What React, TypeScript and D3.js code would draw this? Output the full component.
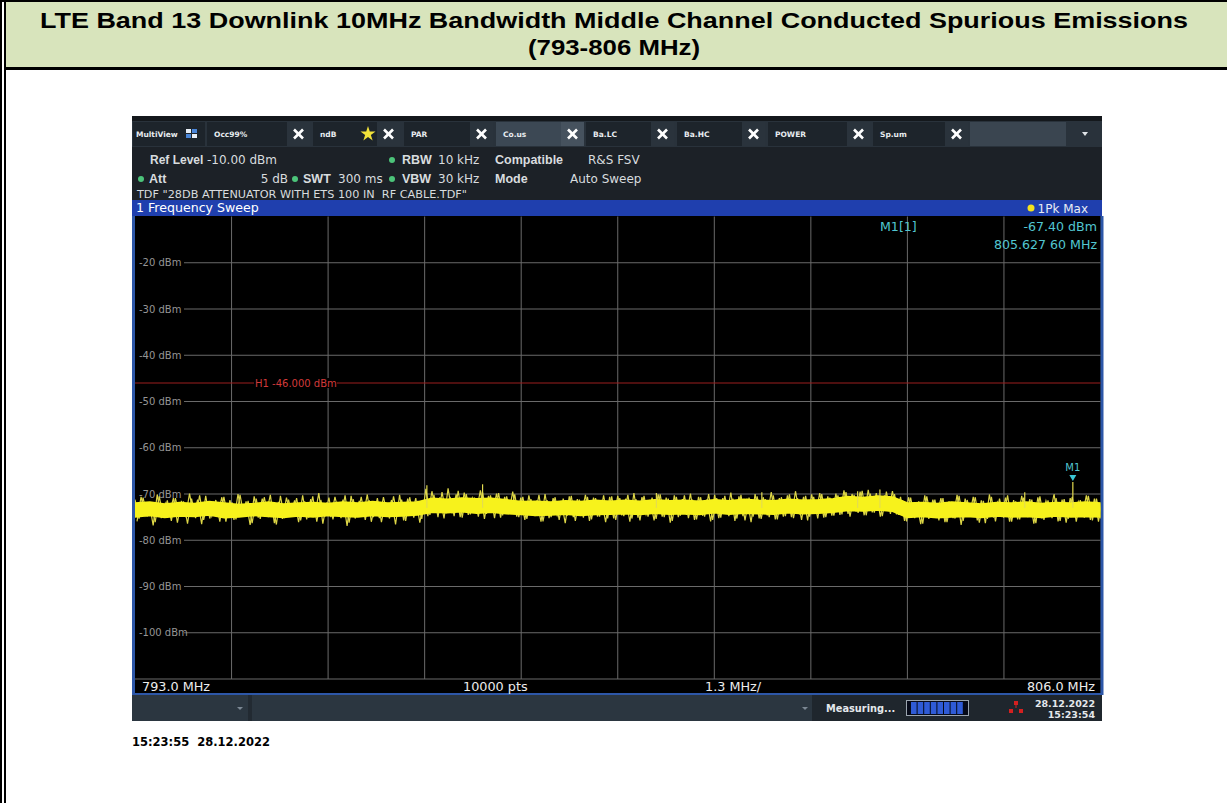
import React from 'react';
import * as d3 from 'd3';

// ---------- data ----------
const titleLines = [
  'LTE Band 13 Downlink 10MHz Bandwidth Middle Channel Conducted Spurious Emissions',
  '(793-806 MHz)',
];
const startFreqMHz = 793.0;
const stopFreqMHz = 806.0;
const refLevelDbm = -10;
const bottomLevelDbm = -110;
const levelTicksDbm = [-20, -30, -40, -50, -60, -70, -80, -90, -100];
const limitLineDbm = -46.0;
const markerFreqMHz = 805.6276;
const markerLevelDbm = -67.4;

// dense part of the noise band (upper / lower edge), sampled every 0.2 MHz
const coreTopDbm = [
  -72.0, -71.8, -72.2, -71.9, -72.1, -71.7, -72.0, -72.3, -72.1, -71.8,
  -72.2, -72.0, -71.9, -72.1, -71.8, -72.0, -71.7, -72.0, -71.9, -71.8,
  -71.0, -71.2, -70.9, -71.1, -71.0, -71.3, -71.7, -71.6, -71.8, -71.5,
  -71.7, -71.4, -71.6, -71.4, -71.6, -71.3, -71.5, -71.4, -71.6, -71.3,
  -71.5, -71.2, -71.4, -71.5, -71.2, -71.4, -71.3, -71.1, -70.6, -70.8,
  -70.5, -70.7, -72.0, -71.9, -72.1, -71.8, -72.0, -72.2, -71.9, -72.0,
  -71.8, -72.1, -71.9, -72.0, -71.8, -72.0,
];
const coreBottomDbm = [
  -74.9, -74.6, -75.0, -74.7, -74.8, -74.5, -75.1, -74.9, -74.6, -74.8,
  -75.0, -74.7, -74.9, -74.6, -74.8, -74.9, -74.6, -74.8, -74.7, -74.5,
  -73.9, -74.0, -73.8, -74.1, -73.9, -74.2, -74.4, -74.6, -74.5, -74.3,
  -74.6, -74.4, -74.3, -74.2, -74.4, -74.1, -74.3, -74.2, -74.4, -74.0,
  -74.3, -74.1, -74.2, -74.3, -74.0, -74.2, -74.1, -73.9, -73.5, -73.6,
  -73.4, -73.7, -75.0, -74.8, -75.1, -74.9, -74.8, -75.0, -74.7, -74.9,
  -74.8, -75.0, -74.7, -74.9, -74.8, -74.9,
];
// peak-detector trace (reduced), first set of points
const traceDbmA = [
  -71.2, -75.3, -70.8, -74.9, -71.9, -76.1, -70.5, -75.0, -71.4, -75.8,
  -70.9, -74.7, -71.6, -76.4, -71.0, -75.2, -70.3, -75.6, -71.7, -74.8,
  -71.3, -76.0, -70.6, -75.1, -71.8, -75.5, -70.2, -74.9, -71.5, -76.3,
  -71.0, -75.4, -70.7, -75.0, -71.9, -76.6, -70.4, -75.2, -71.2, -74.8,
  -70.9, -75.7, -71.6, -75.1, -70.5, -76.0, -71.3, -74.9, -70.8, -75.5,
  -71.7, -75.2, -70.3, -76.2, -71.1, -74.8, -70.6, -75.6, -71.4, -75.0,
  -70.9, -76.1, -71.8, -75.3, -70.5, -74.9, -71.2, -75.8, -70.7, -75.1,
  -71.5, -75.4,
  -68.9, -74.5, -70.2, -75.0, -69.6, -74.2, -70.6, -74.8,
  -69.3, -75.1, -70.0, -74.4, -70.8, -74.9, -69.5, -74.3, -70.3, -75.2,
  -69.8, -74.6, -70.5, -74.1, -70.1, -75.0,
  -70.6, -75.4, -71.1, -74.8,
  -70.2, -75.9, -71.3, -75.0, -70.7, -75.6, -71.0, -74.7, -70.4, -75.8,
  -71.2, -75.1, -70.6, -75.5, -70.9, -74.9, -70.3, -75.3,
  -70.5, -75.6,
  -70.9, -74.8, -70.2, -75.3, -71.1, -75.7, -70.4, -74.9, -70.8, -75.4,
  -70.1, -75.0, -71.0, -75.8, -70.6, -74.7, -70.3, -75.2, -71.2, -75.5,
  -70.7, -74.9, -70.0, -75.6, -70.9, -75.1, -70.4, -74.8, -71.0, -75.3,
  -70.2, -75.7, -70.8, -74.9, -70.5, -75.4, -71.1, -75.0, -70.3, -75.5,
  -70.7, -74.8, -70.1, -75.2, -70.9, -75.6, -70.4, -74.9, -70.6, -75.3,
  -70.0, -75.0, -70.8, -74.7, -70.3,
  -74.4, -69.6, -74.9, -70.2, -74.1,
  -69.3, -74.6, -69.9, -74.0, -70.4, -74.8, -69.5, -74.3, -70.0, -74.5,
  -71.4, -75.9, -70.8, -75.2, -71.6, -76.4, -70.5, -75.0, -71.2, -75.7,
  -70.9, -76.1, -71.7, -75.3, -70.4, -75.8, -71.3, -74.9, -70.7, -76.2,
  -71.5, -75.4, -70.6, -75.9, -71.0, -75.1, -70.3, -76.0, -71.6, -75.5,
  -70.8, -75.0, -71.2, -76.3, -70.5, -75.6, -71.4, -75.2, -70.9, -75.8,
  -71.1, -75.4, -70.6, -76.0, -71.3, -75.1, -70.4, -75.7, -71.0, -75.3,
];
// second set of trace points, lying between those of the first set
const traceDbmB = [
  -75.9, -70.6, -74.6, -71.8, -76.8, -70.1, -75.2, -72.0, -74.4, -70.9,
  -76.2, -71.5, -75.0, -69.9, -74.7, -71.2, -76.5, -70.4, -75.3, -71.9,
  -74.5, -70.7, -76.0, -71.3, -75.6, -70.0, -74.8, -71.6, -76.7, -70.5,
  -75.1, -71.0, -74.3, -70.2, -76.3, -71.7, -75.4, -70.8, -74.9, -71.4,
  -76.1, -70.3, -75.5, -71.1, -74.6, -69.8, -76.4, -71.8, -75.0, -70.6,
  -74.4, -71.2, -76.9, -70.4, -75.3, -71.5, -74.8, -70.1, -76.0, -71.9,
  -75.2, -70.7, -74.5, -71.3, -76.6, -70.2, -75.7, -71.0, -74.7, -70.9,
  -76.2, -71.6,
  -74.8, -69.4, -73.9, -70.7, -75.3, -68.8, -74.2, -70.1,
  -75.0, -69.7, -74.5, -70.9, -73.8, -69.2, -75.4, -70.4, -74.0, -69.9,
  -75.1, -70.6, -74.3, -69.5, -74.9, -70.8,
  -75.6, -70.3, -74.5, -71.4,
  -76.0, -70.0, -75.2, -70.9, -74.6, -71.5, -76.3, -70.5, -75.0, -71.1,
  -74.4, -70.2, -75.8, -70.8, -74.9, -71.3, -76.1, -70.6,
  -75.3, -70.4,
  -74.6, -71.0, -76.0, -69.8, -75.1, -70.7, -74.4, -71.3, -75.7, -70.1,
  -74.9, -70.8, -76.2, -70.3, -75.0, -71.1, -74.5, -69.9, -75.6, -70.6,
  -74.7, -71.2, -75.9, -70.2, -75.2, -70.9, -74.3, -69.7, -75.8, -70.5,
  -74.8, -71.0, -76.1, -70.0, -75.3, -70.7, -74.6, -69.6, -75.5, -70.9,
  -74.9, -70.3, -75.0, -69.4, -74.4, -70.6, -75.7, -70.1, -74.2, -69.8,
  -75.1, -70.5, -74.7, -69.9, -74.5,
  -69.2, -74.3, -70.0, -73.8, -69.5,
  -74.6, -69.1, -74.0, -69.8, -74.9, -70.3, -73.7, -69.4, -74.4, -70.6,
  -75.8, -70.7, -75.0, -71.9, -76.5, -70.3, -75.4, -71.2, -74.7, -70.9,
  -76.1, -71.6, -75.2, -70.2, -76.7, -71.0, -74.9, -70.6, -75.7, -71.4,
  -76.3, -70.1, -75.1, -71.8, -74.6, -70.8, -76.0, -71.3, -75.5, -70.4,
  -74.8, -71.1, -76.4, -70.7, -75.3, -71.5, -74.5, -70.0, -75.9, -71.2,
  -76.2, -70.9, -75.0, -71.7, -74.7, -70.3, -75.6, -71.0, -76.0, -70.5,
];
// isolated tall peaks
const spikeFreqsMHz = [796.93, 797.68, 800.02, 801.44, 802.73, 803.03, 804.98, 805.6276];
const spikeLevelsDbm = [-68.1, -67.9, -69.8, -69.6, -69.4, -69.0, -69.6, -67.4];

const tabNames = ['Occ99%', 'ndB', 'PAR', 'Co.us', 'Ba.LC', 'Ba.HC', 'POWER', 'Sp.um'];

const MONO = '"DejaVu Sans", Verdana, sans-serif';
const ARIAL = '"Liberation Sans", Arial, sans-serif';

function XMark({ cx, cy }: { cx: number; cy: number }) {
  const s = 4.5;
  return (
    <g stroke="#ffffff" strokeWidth={2.6} strokeLinecap="butt">
      <line x1={cx - s} y1={cy - s} x2={cx + s} y2={cy + s} />
      <line x1={cx - s} y1={cy + s} x2={cx + s} y2={cy - s} />
    </g>
  );
}

export default function App() {
  const plotL = 135, plotR = 1100.5, plotT = 216.5, plotB = 679;
  const x = d3.scaleLinear().domain([startFreqMHz, stopFreqMHz]).range([plotL, plotR]);
  const y = d3.scaleLinear().domain([refLevelDbm, bottomLevelDbm]).range([plotT, plotB]);
  const span = stopFreqMHz - startFreqMHz;

  const coreFreqs = coreTopDbm.map((_, i) => startFreqMHz + (span * i) / (coreTopDbm.length - 1));
  const step = span / (traceDbmA.length - 1);
  const traceFreqsA = traceDbmA.map((_, i) => startFreqMHz + step * i);
  const traceFreqsB = traceDbmB.map((_, i) => startFreqMHz + step * (i + 0.5));

  const coreArea = d3
    .area<number>()
    .x((_, i) => x(coreFreqs[i]))
    .y0((_, i) => y(coreBottomDbm[i]))
    .y1((d) => y(d));
  const lineA = d3.line<number>().x((_, i) => x(traceFreqsA[i])).y((d) => y(d));
  const lineB = d3.line<number>().x((_, i) => x(traceFreqsB[i])).y((d) => y(d));

  const gridFreqs = d3.range(1, 10).map((i) => startFreqMHz + (span * i) / 10);

  const tabLayout = [
    [207, 310], [313, 400], [404, 493], [496, 584], [586, 674], [677, 765], [768, 870], [873, 968],
  ];

  const mx = x(markerFreqMHz);
  const my = y(markerLevelDbm);

  const star = d3.symbol().type(d3.symbolStar).size(70)() as string;

  return (
    <svg
      width={1227}
      height={803}
      style={{ position: 'absolute', left: 0, top: 0, display: 'block', background: '#ffffff' }}
    >
      <defs>
        <clipPath id="plotClip">
          <rect x={plotL} y={plotT} width={plotR - plotL} height={plotB - plotT} />
        </clipPath>
      </defs>

      {/* page frame + title box */}
      <rect x={6} y={0} width={1221} height={68} fill="#d8e4bc" />
      <rect x={0} y={0} width={1227} height={2} fill="#000" />
      <rect x={6} y={67} width={1221} height={3} fill="#000" />
      <rect x={0} y={0} width={2} height={803} fill="#000" />
      <rect x={4} y={0} width={2} height={803} fill="#000" />
      <text x={614} y={28} textAnchor="middle" fontFamily={ARIAL} fontWeight="bold" fontSize={22}
        textLength={1148} lengthAdjust="spacingAndGlyphs" fill="#000">{titleLines[0]}</text>
      <text x={614} y={55} textAnchor="middle" fontFamily={ARIAL} fontWeight="bold" fontSize={22}
        textLength={172} lengthAdjust="spacingAndGlyphs" fill="#000">{titleLines[1]}</text>

      {/* instrument screen */}
      <rect x={132} y={116} width={970} height={605} fill="#1c2127" />
      <rect x={132} y={116} width={970} height={5} fill="#14181c" />
      {/* tab bar */}
      <rect x={132} y={121} width={970} height={26} fill="#29323b" />
      <rect x={133} y={122} width={72} height={24} fill="#1d242b" />
      <text x={136} y={137} fontFamily={MONO} fontWeight="bold" fontSize={7.5} fill="#e8ecf0">MultiView</text>
      <rect x={186} y={129} width={5} height={4} fill="#e8eef6" />
      <rect x={192} y={129} width={5} height={4} fill="#4a86d8" />
      <rect x={186} y={134} width={5} height={4} fill="#4a86d8" />
      <rect x={192} y={134} width={5} height={4} fill="#e8eef6" />
      {tabNames.map((name, i) => {
        const [x0, x1] = tabLayout[i];
        const active = name === 'Co.us';
        return (
          <g key={name}>
            <rect x={x0} y={122} width={x1 - x0} height={24} fill={active ? '#3c4854' : '#1d242b'} />
            <rect x={x1 - 23} y={122} width={23} height={24} fill={active ? '#46525e' : '#2a333c'} />
            <text x={x0 + 7} y={137} fontFamily={MONO} fontWeight="bold" fontSize={7.5} fill="#e8ecf0">{name}</text>
            <XMark cx={x1 - 11.5} cy={134} />
            {name === 'ndB' && <path d={star} transform={`translate(${x1 - 32},134)`} fill="#f2e23a" />}
          </g>
        );
      })}
      <rect x={970} y={122} width={96} height={24} fill="#3a4550" />
      <path d="M1082,132 L1088,132 L1085,136 Z" fill="#e0e4e8" />

      {/* setting lines */}
      <g fontSize={12} fill="#d8dcdf">
        <text x={150} y={164} fontFamily={ARIAL} fontWeight="bold">Ref Level</text>
        <text x={207} y={164} fontFamily={MONO} fontSize={12}>-10.00 dBm</text>
        <circle cx={392} cy={160} r={3} fill="#4cc47a" />
        <text x={402} y={164} fontFamily={ARIAL} fontWeight="bold" fontSize={12.5}>RBW</text>
        <text x={438} y={164} fontFamily={MONO} fontSize={12}>10 kHz</text>
        <text x={495} y={164} fontFamily={ARIAL} fontWeight="bold" fontSize={12.5}>Compatible</text>
        <text x={588} y={164} fontFamily={MONO} fontSize={12}>R&amp;S FSV</text>

        <circle cx={141} cy={179} r={3} fill="#4cc47a" />
        <text x={149} y={183} fontFamily={ARIAL} fontWeight="bold" fontSize={12.5}>Att</text>
        <text x={288} y={183} fontFamily={MONO} fontSize={12} textAnchor="end">5 dB</text>
        <circle cx={295} cy={179} r={3} fill="#4cc47a" />
        <text x={303} y={183} fontFamily={ARIAL} fontWeight="bold" fontSize={12.5}>SWT</text>
        <text x={338} y={183} fontFamily={MONO} fontSize={12}>300 ms</text>
        <circle cx={392} cy={179} r={3} fill="#4cc47a" />
        <text x={402} y={183} fontFamily={ARIAL} fontWeight="bold" fontSize={12.5}>VBW</text>
        <text x={438} y={183} fontFamily={MONO} fontSize={12}>30 kHz</text>
        <text x={495} y={183} fontFamily={ARIAL} fontWeight="bold" fontSize={12.5}>Mode</text>
        <text x={570} y={183} fontFamily={MONO} fontSize={12}>Auto Sweep</text>

        <text x={137} y={198} fontFamily={MONO} fontSize={10.5} textLength={330} lengthAdjust="spacingAndGlyphs"
          style={{ whiteSpace: 'pre' }}>
          {'TDF "28DB ATTENUATOR WITH ETS 100 IN  RF CABLE.TDF"'}
        </text>
      </g>

      {/* window title bar */}
      <rect x={132} y={200} width={970} height={16} fill="#1f3fae" />
      <text x={136} y={212} fontFamily={MONO} fontSize={12.6} fill="#ffffff">1 Frequency Sweep</text>
      <circle cx={1031} cy={208} r={3.5} fill="#f4e21e" />
      <text x={1088} y={212.5} textAnchor="end" fontFamily={MONO} fontSize={12} fill="#e8ecf4">1Pk Max</text>

      {/* plot area */}
      <rect x={plotL} y={216} width={plotR - plotL} height={478} fill="#000" />
      <rect x={132} y={216} width={3} height={479} fill="#2d57a8" />
      <rect x={plotR} y={216} width={3} height={479} fill="#2d57a8" />
      <rect x={132} y={693} width={970} height={2} fill="#2d57a8" />

      {gridFreqs.map((f) => (
        <line key={f} x1={x(f)} x2={x(f)} y1={plotT} y2={plotB} stroke="#6a6a6a" strokeWidth={1} />
      ))}
      {levelTicksDbm.map((v) => (
        <g key={v}>
          <line x1={184} x2={plotR} y1={y(v)} y2={y(v)} stroke="#6a6a6a" strokeWidth={1} />
          <text x={139} y={y(v) + 3.6} fontFamily={MONO} fontSize={10} fill="#959595">{`${v} dBm`}</text>
        </g>
      ))}
      <line x1={plotL} x2={plotR} y1={plotB} y2={plotB} stroke="#6a6a6a" strokeWidth={1} />

      {/* limit line */}
      <line x1={plotL} x2={plotR} y1={y(limitLineDbm)} y2={y(limitLineDbm)} stroke="#9c1e1e" strokeWidth={1} />
      <rect x={254} y={y(limitLineDbm) - 5} width={83} height={10} fill="#000" />
      <text x={255} y={y(limitLineDbm) + 3.5} fontFamily={MONO} fontSize={10} fill="#d23a3a">
        {`H1 ${limitLineDbm.toFixed(3)} dBm`}
      </text>

      {/* marker readout */}
      <g fontFamily={MONO} fontSize={12.6} fill="#52c6d0">
        <text x={880} y={231}>M1[1]</text>
        <text x={1097} y={231} textAnchor="end">{`${markerLevelDbm.toFixed(2)} dBm`}</text>
        <text x={1097} y={249} textAnchor="end">805.627 60 MHz</text>
      </g>

      {/* trace */}
      <g clipPath="url(#plotClip)">
        <path d={lineA(traceDbmA) as string} fill="none" stroke="#ddd646" strokeWidth={1.2} />
        <path d={lineB(traceDbmB) as string} fill="none" stroke="#ddd646" strokeWidth={1.2} />
        <path d={coreArea(coreTopDbm) as string} fill="#f7f21c" stroke="#f7f21c" strokeWidth={2} />
        {spikeFreqsMHz.map((f, i) => (
          <line key={f} x1={x(f)} x2={x(f)} y1={y(-73.0)} y2={y(spikeLevelsDbm[i])} stroke="#e4dc50" strokeWidth={1.2} />
        ))}
      </g>

      {/* marker symbol */}
      <path d={`M${mx - 3.5},${my - 7} L${mx + 3.5},${my - 7} L${mx},${my - 1} Z`} fill="#3cc8d6" />
      <text x={mx} y={my - 11} textAnchor="middle" fontFamily={MONO} fontSize={10} fill="#52c6d0">M1</text>

      {/* bottom labels */}
      <g fontFamily={MONO} fontSize={12.8} fill="#ececec">
        <text x={142} y={691}>{`${startFreqMHz.toFixed(1)} MHz`}</text>
        <text x={463} y={691}>10000 pts</text>
        <text x={705} y={691}>{`${(span / 10).toFixed(1)} MHz/`}</text>
        <text x={1095} y={691} textAnchor="end">{`${stopFreqMHz.toFixed(1)} MHz`}</text>
      </g>

      {/* status bar */}
      <rect x={132} y={695} width={970} height={26} fill="#2b3640" />
      <rect x={248} y={695} width={4} height={26} fill="#222a32" />
      <rect x={812} y={695} width={290} height={26} fill="#1f262d" />
      <path d="M237,707 L243,707 L240,710 Z" fill="#7c8894" />
      <path d="M802,707 L808,707 L805,710 Z" fill="#7c8894" />
      <text x={826} y={712} fontFamily={MONO} fontWeight="bold" fontSize={9.8} fill="#e4e8ec">Measuring...</text>
      <rect x={906.5} y={700.5} width={62} height={15} fill="#060a18" stroke="#9aa4ae" strokeWidth={1} />
      {d3.range(8).map((i) => (
        <rect key={i} x={911 + i * 6.6} y={702} width={5.6} height={12} fill="#2f5bd6" />
      ))}
      <rect x={1014} y={701} width={4} height={4} fill="#d42020" />
      <rect x={1009} y={709} width={4} height={4} fill="#d42020" />
      <rect x={1019} y={709} width={4} height={4} fill="#d42020" />
      <line x1={1016} y1={705} x2={1016} y2={708} stroke="#d42020" />
      <g fontFamily={MONO} fontWeight="bold" fontSize={9.5} fill="#e4e8ec" textAnchor="end">
        <text x={1095} y={707}>28.12.2022</text>
        <text x={1095} y={718}>15:23:54</text>
      </g>

      {/* timestamp below screenshot */}
      <text x={132} y={746} fontFamily={MONO} fontWeight="bold" fontSize={11.5} fill="#000" style={{ whiteSpace: 'pre' }}>
        {'15:23:55  28.12.2022'}
      </text>
    </svg>
  );
}
